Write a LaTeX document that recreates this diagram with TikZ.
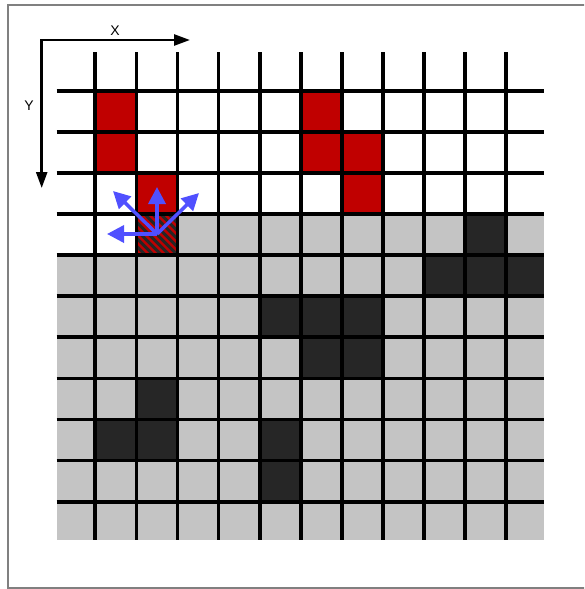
\documentclass[tikz,border=0pt]{standalone}
\usepackage{fontspec}
\setmainfont{Liberation Sans}
\usetikzlibrary{arrows.meta}
\definecolor{cellred}{RGB}{192,0,0}
\definecolor{cellgrey}{RGB}{196,196,196}
\definecolor{celldark}{RGB}{38,38,38}
\definecolor{arrowblue}{RGB}{80,80,255}
\definecolor{framegrey}{RGB}{128,128,128}
\begin{document}
\begin{tikzpicture}[x=1pt,y=-1pt,
  gridline/.style={line width=3.7pt,black},
  redcell/.style={fill=cellred},
  greycell/.style={fill=cellgrey},
  darkcell/.style={fill=celldark},
  axisline/.style={line width=2.5pt,black,line join=miter,{Triangle[length=16pt,width=11pt]}-{Triangle[length=16pt,width=11pt]}},
  movearrow/.style={line width=3.5pt,arrowblue,-{Triangle[length=17pt,width=17pt]}},
  axislabel/.style={font=\fontsize{14}{16}\selectfont,inner sep=0pt}]
\useasboundingbox (0,0) rectangle (584,589);
\clip (0,0) rectangle (584,589);
\fill[white] (0,0) rectangle (584,589);
\draw[framegrey,line width=2pt] (8.3,4.7) rectangle (620,588);
% grey floor
\fill[greycell] (177.5,214) rectangle (544.3,540);
\fill[greycell] (56.5,255.1) rectangle (177.5,540);
% dark cells
\fill[darkcell] (465.2,214) rectangle (506.3,255.1);
\fill[darkcell] (424.1,255.1) rectangle (544.3,296.2);
\fill[darkcell] (259.7,296.2) rectangle (383.0,337.3);
\fill[darkcell] (300.8,337.3) rectangle (383.0,378.4);
\fill[darkcell] (136.4,378.4) rectangle (177.5,419.5);
\fill[darkcell] (95.3,419.5) rectangle (177.5,460.6);
\fill[darkcell] (259.7,419.5) rectangle (300.8,501.7);
% red cells
\fill[redcell] (95.3,90.7) rectangle (136.4,172.9);
\fill[redcell] (136.4,172.9) rectangle (177.5,214);
\fill[redcell] (300.8,90.7) rectangle (341.9,172.9);
\fill[redcell] (341.9,131.8) rectangle (383.0,214);
% hatched cell
\begin{scope}
  \clip (136.4,214) rectangle (177.5,255.1);
  \fill[redcell] (136.4,214) rectangle (177.5,255.1);
  \foreach \s in {-48,-40,...,48}
    \draw[celldark,line width=3pt] (136.4+\s,214) -- (177.5+\s,255.1);
\end{scope}
% grid lines
\foreach \x in {95.3,136.4,177.5,218.6,259.7,300.8,341.9,383.0,424.1,465.2,506.3}
  \draw[gridline] (\x,52) -- (\x,540);
\foreach \y in {90.7,131.8,172.9,214.0,255.1,296.2,337.3,378.4,419.5,460.6,501.7}
  \draw[gridline] (56.5,\y) -- (544.3,\y);
% axes
\coordinate (axorigin) at (41.7,40);
\coordinate (xend) at (190,40);
\coordinate (yend) at (41.7,188);
\draw[axisline] (xend) -- (axorigin) -- (yend);
\node[axislabel] (xlabel) at (115,31) {X};
\node[axislabel] (ylabel) at (29,106) {Y};
% movement arrows
\coordinate (agent) at (157,234);
\coordinate (tipup) at (157,187);
\coordinate (tipleft) at (107,234);
\coordinate (tipupleft) at (113,191);
\coordinate (tipupright) at (199,193);
\draw[movearrow] (agent) -- (tipup);
\draw[movearrow] (agent) -- (tipleft);
\draw[movearrow] (agent) -- (tipupleft);
\draw[movearrow] (agent) -- (tipupright);
\end{tikzpicture}
\end{document}
